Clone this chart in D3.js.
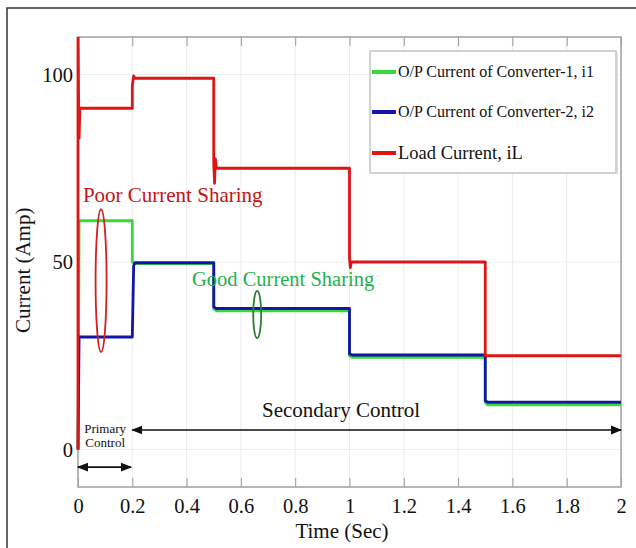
<!DOCTYPE html>
<html>
<head>
<meta charset="utf-8">
<script src="https://cdn.jsdelivr.net/npm/d3@7"></script>
<style>
  html, body { margin: 0; padding: 0; background: #fff; }
  svg { display: block; }
  text { font-family: "Liberation Serif", "Times New Roman", serif; }
</style>
</head>
<body>
<svg id="chart" width="636" height="548"></svg>
<script>
// Simulated converter currents (A) against time (s), as [time, current] pairs
const loadCurrent = [
  [0, 0], [0, 118], [0.002, 95], [0.004, 83], [0.007, 91], [0.2, 91],
  [0.2, 97], [0.205, 99.6], [0.21, 99], [0.5, 99],
  [0.5, 76], [0.503, 71], [0.506, 77.5], [0.51, 75], [1.0, 75],
  [1.0, 51], [1.003, 48.5], [1.007, 50], [1.5, 50],
  [1.5, 25], [2.0, 25]
];
const converter1 = [
  [0, 0], [0.002, 30], [0.004, 61], [0.2, 61],
  [0.2, 50], [0.21, 49.6], [0.5, 49.6],
  [0.5, 37.5], [0.51, 37], [1.0, 37],
  [1.0, 25], [1.01, 24.6], [1.5, 24.6],
  [1.5, 12.5], [1.51, 11.9], [2.0, 11.9]
];
const converter2 = [
  [0, 0], [0.004, 30], [0.2, 30],
  [0.205, 49], [0.21, 49.8], [0.5, 49.8],
  [0.5, 38], [0.51, 37.6], [1.0, 37.6],
  [1.0, 25.5], [1.01, 25.2], [1.5, 25.2],
  [1.5, 13], [1.51, 12.6], [2.0, 12.6]
];

const xTicks = [0, 0.2, 0.4, 0.6, 0.8, 1, 1.2, 1.4, 1.6, 1.8, 2];
const xTickLabels = ["0", "0.2", "0.4", "0.6", "0.8", "1", "1.2", "1.4", "1.6", "1.8", "2"];
const yTicks = [0, 50, 100];
const yTickLabels = ["0", "50", "100"];

const seriesNames = ["O/P Current of Converter-1, i1", "O/P Current of Converter-2, i2", "Load Current, iL"];
const seriesColors = ["#38d838", "#1414a8", "#dd1515"];

const svg = d3.select("#chart");
const margin = { left: 78, right: 15, top: 37, bottom: 61 };
const W = 636, H = 548;

const x = d3.scaleLinear().domain([0, 2]).range([margin.left, W - margin.right]);
const y = d3.scaleLinear().domain([-10, 110]).range([H - margin.bottom, margin.top]);

// Outer frame (left and top edges)
svg.append("path")
  .attr("d", `M7,${H} L7,8 L${W},8`)
  .attr("fill", "none").attr("stroke", "#333").attr("stroke-width", 1.5);

// Grid
const grid = svg.append("g");
grid.selectAll("line.vx").data(xTicks.slice(1, -1)).join("line")
  .attr("x1", d => x(d)).attr("x2", d => x(d))
  .attr("y1", y(110)).attr("y2", y(-10))
  .attr("stroke", "#ececec").attr("stroke-width", 1);
grid.selectAll("line.hy").data(yTicks).join("line")
  .attr("x1", x(0)).attr("x2", x(2))
  .attr("y1", d => y(d)).attr("y2", d => y(d))
  .attr("stroke", "#efefef").attr("stroke-width", 1);

// Axes: bottom with labels, top without; inward ticks
const xAxis = d3.axisBottom(x).tickValues(xTicks)
  .tickFormat((d, i) => xTickLabels[i]).tickSizeInner(-9).tickSizeOuter(0).tickPadding(11);
const gx = svg.append("g").attr("transform", `translate(0,${y(-10)})`).call(xAxis);
gx.select(".domain").remove();
gx.selectAll(".tick line").attr("stroke", "#9a9a9a");
gx.selectAll(".tick text").attr("font-size", 20.5).attr("fill", "#111")
  .attr("font-family", "Liberation Serif, serif");

const xTop = d3.axisTop(x).tickValues(xTicks).tickFormat("").tickSizeInner(-9).tickSizeOuter(0);
const gxt = svg.append("g").attr("transform", `translate(0,${y(110)})`).call(xTop);
gxt.select(".domain").remove();
gxt.selectAll(".tick line").attr("stroke", "#9a9a9a");

const yAxis = d3.axisLeft(y).tickValues(yTicks)
  .tickFormat((d, i) => yTickLabels[i]).tickSize(0).tickPadding(5);
const gy = svg.append("g").attr("transform", `translate(${x(0)},0)`).call(yAxis);
gy.select(".domain").remove();
gy.selectAll(".tick text").attr("font-size", 20.5).attr("fill", "#111")
  .attr("font-family", "Liberation Serif, serif");

// Plot border
svg.append("rect")
  .attr("x", x(0)).attr("y", y(110))
  .attr("width", x(2) - x(0)).attr("height", y(-10) - y(110))
  .attr("fill", "none").attr("stroke", "#a0a0a0").attr("stroke-width", 1.5);

// Series
svg.append("clipPath").attr("id", "plotClip").append("rect")
  .attr("x", x(0) - 2).attr("y", y(110))
  .attr("width", x(2) - x(0) + 4).attr("height", y(-10) - y(110));

const line = d3.line().x(d => x(d[0])).y(d => y(d[1]));
const plot = svg.append("g").attr("clip-path", "url(#plotClip)");
[[converter1, 0], [converter2, 1], [loadCurrent, 2]].forEach(([data, i]) => {
  plot.append("path").datum(data)
    .attr("d", line)
    .attr("fill", "none")
    .attr("stroke", seriesColors[i])
    .attr("stroke-width", 2.8)
    .attr("stroke-linejoin", "round");
});

// Legend
const legend = svg.append("g");
legend.append("rect").attr("x", 370).attr("y", 51).attr("width", 246).attr("height", 122)
  .attr("fill", "#fff").attr("stroke", "#b5b5b5").attr("stroke-width", 1.2);
legend.append("line").attr("x1", 617.5).attr("x2", 617.5).attr("y1", 53).attr("y2", 174)
  .attr("stroke", "#dcdcdc").attr("stroke-width", 1);
const legendY = [72, 112, 153];
const legendSize = [16, 16, 18.5];
seriesNames.forEach((name, i) => {
  legend.append("line")
    .attr("x1", 372).attr("x2", 396).attr("y1", legendY[i]).attr("y2", legendY[i])
    .attr("stroke", seriesColors[i]).attr("stroke-width", 4);
  legend.append("text")
    .attr("x", 398).attr("y", legendY[i]).attr("dy", "0.33em")
    .attr("font-size", legendSize[i]).attr("fill", "#111").text(name);
});

// Annotations
svg.append("text").attr("x", x(0.018)).attr("y", y(66))
  .attr("font-size", 21).attr("fill", "#c41414").text("Poor Current Sharing");
svg.append("ellipse").attr("cx", x(0.085)).attr("cy", y(45))
  .attr("rx", 5.5).attr("ry", y(26) - y(45))
  .attr("fill", "none").attr("stroke", "#d02020").attr("stroke-width", 1.8);

svg.append("text").attr("x", x(0.42)).attr("y", y(43.5))
  .attr("font-size", 20.5).attr("fill", "#22b24a").text("Good Current Sharing");
svg.append("ellipse").attr("cx", x(0.66)).attr("cy", y(36))
  .attr("rx", 4).attr("ry", y(29.7) - y(36))
  .attr("fill", "none").attr("stroke", "#2e7d32").attr("stroke-width", 1.8);

// Control-region arrows
svg.append("defs").append("marker")
  .attr("id", "arrowHead").attr("viewBox", "0 0 10 10")
  .attr("refX", 9).attr("refY", 5).attr("markerWidth", 7).attr("markerHeight", 7)
  .attr("orient", "auto-start-reverse")
  .append("path").attr("d", "M0,1 L10,5 L0,9 Z").attr("fill", "#111");

svg.append("line")
  .attr("x1", x(0.2)).attr("x2", x(2)).attr("y1", y(5.2)).attr("y2", y(5.2))
  .attr("stroke", "#111").attr("stroke-width", 1.6)
  .attr("marker-start", "url(#arrowHead)").attr("marker-end", "url(#arrowHead)");
svg.append("text").attr("x", 262).attr("y", y(8.8))
  .attr("font-size", 21).attr("fill", "#111").text("Secondary Control");

svg.append("line")
  .attr("x1", x(0)).attr("x2", x(0.195)).attr("y1", y(-4.7)).attr("y2", y(-4.7))
  .attr("stroke", "#111").attr("stroke-width", 1.6)
  .attr("marker-start", "url(#arrowHead)").attr("marker-end", "url(#arrowHead)");
svg.append("text").attr("x", x(0.1)).attr("y", y(4.5)).attr("text-anchor", "middle")
  .attr("font-size", 13).attr("fill", "#111").text("Primary");
svg.append("text").attr("x", x(0.1)).attr("y", y(0.8)).attr("text-anchor", "middle")
  .attr("font-size", 13).attr("fill", "#111").text("Control");

// Axis titles
svg.append("text").attr("x", 342).attr("y", 538).attr("text-anchor", "middle")
  .attr("font-size", 21).attr("fill", "#111").text("Time (Sec)");
svg.append("text").attr("transform", `translate(30,${y(47.8)}) rotate(-90)`)
  .attr("text-anchor", "middle")
  .attr("font-size", 21).attr("fill", "#111").text("Current (Amp)");
</script>
</body>
</html>
